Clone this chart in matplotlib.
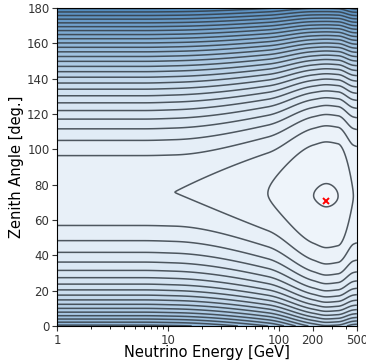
import numpy as np
import matplotlib.pyplot as plt
from matplotlib.colors import LinearSegmentedColormap

# contour crossings read along the left edge (E = 1 GeV), zenith angle in deg.
upper_angles = [95.2, 104.0, 110.0, 116.6, 121.3, 125.5, 129.8, 134.1, 137.0, 140.7,
                144.3, 147.1, 150.0, 152.8, 155.6, 158.1, 160.4, 162.7, 165.1, 167.2,
                169.4, 171.7, 173.6, 175.4, 177.3]
lower_angles = [56.2, 48.1, 41.3, 36.4, 31.3, 27.6, 23.8, 20.8, 17.5, 14.7, 12.3,
                9.8, 7.5, 5.7, 4.0, 2.4]
first_outer_level = 3
plateau_angle = 75.7
plateau_level = 2.01

# crossings along the valley line: energy [GeV] -> contour level
valley_energy = [1, 6, 11.5, 79, 204, 265, 339, 465, 500]
valley_level = [2.01, 2.008, 2.0, 1.0, 0.0, -0.04, 0.0, 1.0, 1.05]
# how much the valley flattens in angle along energy (1 = as at 1 GeV)
valley_flat = [1.0, 1.0, 0.97, 0.8, 0.42, 0.34, 0.37, 0.41, 0.42]
valley_angle = [75.7, 75.7, 75.7, 75.0, 73.8, 73.5, 73.5, 73.5, 73.5]

best_fit_energy = 265
best_fit_angle = 71


def pchip(x, y, xn):
    x = np.asarray(x, float)
    y = np.asarray(y, float)
    h = np.diff(x)
    delta = np.diff(y) / h
    m = np.zeros_like(y)
    for k in range(1, len(x) - 1):
        if delta[k - 1] * delta[k] > 0:
            w1 = 2 * h[k] + h[k - 1]
            w2 = h[k] + 2 * h[k - 1]
            m[k] = (w1 + w2) / (w1 / delta[k - 1] + w2 / delta[k])
    m[0], m[-1] = delta[0], delta[-1]
    i = np.clip(np.searchsorted(x, xn) - 1, 0, len(h) - 1)
    t = (xn - x[i]) / h[i]
    return ((2 * t**3 - 3 * t**2 + 1) * y[i] + (t**3 - 2 * t**2 + t) * h[i] * m[i]
            + (-2 * t**3 + 3 * t**2) * y[i + 1] + (t**3 - t**2) * h[i] * m[i + 1])


def side_fit(angles, powers):
    d = np.abs(np.array(angles) - plateau_angle)
    lev = first_outer_level + np.arange(len(angles)) - plateau_level
    A = np.column_stack([d**p for p in powers])
    return np.linalg.lstsq(A, lev, rcond=None)[0]


up_c = side_fit(upper_angles, [2, 3])
lo_c = side_fit(lower_angles, [2, 3, 4])

logE = np.linspace(0, np.log10(500), 500)
theta = np.linspace(0, 180, 500)
U, T = np.meshgrid(logE, theta)
u_valley = np.log10(valley_energy)
c_u = pchip(u_valley, valley_level, U)
m_u = pchip(u_valley, valley_flat, U)
t_u = pchip(u_valley, valley_angle, U)

d = T - t_u
prof = np.where(d > 0,
                up_c[0] * d**2 + up_c[1] * np.abs(d)**3,
                lo_c[0] * d**2 + lo_c[1] * np.abs(d)**3 + lo_c[2] * d**4)
M = 1 - (1 - m_u) * np.exp(-d**2 / (2 * 45.0**2))
F = c_u + prof * M

cmap = LinearSegmentedColormap.from_list('fill', ['#f3f7fc', '#d1e2f1', '#85b0d6', '#3f7cb4'])

fig = plt.figure(figsize=(3.66, 3.61), dpi=100)
ax = fig.add_axes([0.156, 0.097, 0.819, 0.881])
E = 10**U
ax.contourf(E, T, F, levels=np.arange(-1, 61), cmap=cmap, vmin=-1, vmax=31, extend='max')
ax.contour(E, T, F, levels=np.arange(0, 61), colors='#333c44', linewidths=1.1, alpha=0.85)
ax.plot(best_fit_energy, best_fit_angle, 'x', color='red', ms=5, mew=1.4)

ax.set_xscale('log')
ax.set_xlim(1, 500)
ax.set_ylim(0, 180)
ax.set_xticks([1, 10, 100, 200, 500], ['1', '10', '100', '200', '500'])
ax.set_yticks(np.arange(0, 181, 20))
ax.tick_params(labelsize=8.5, colors='#333333', labelcolor='#333333', pad=2)
ax.set_xlabel('Neutrino Energy [GeV]', fontsize=10.5, labelpad=-1)
ax.set_ylabel('Zenith Angle [deg.]', fontsize=10.5, labelpad=2)
fig.savefig('out.png', dpi=100)
